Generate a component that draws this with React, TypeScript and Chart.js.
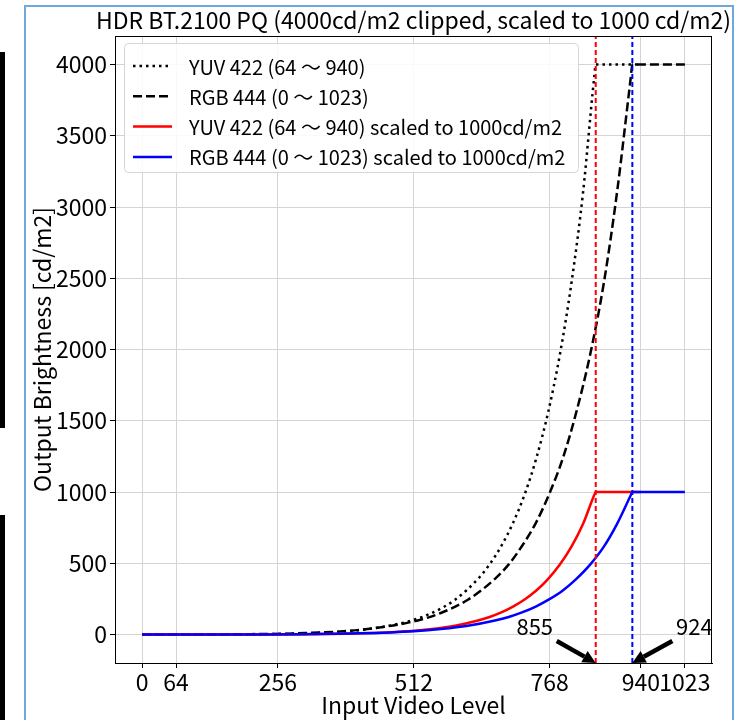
import React, { useEffect, useRef } from "react";
import { Chart, registerables } from "chart.js";

Chart.register(...registerables);

// ---- data ----
const yuvLevels = [0, 64, 152, 239, 327, 414, 502, 546, 590, 633, 655, 677, 699, 721, 743, 765, 787, 809, 831, 852, 855, 940];
const yuvNits = [0, 0, 0.3, 2.4, 10, 32.5, 92, 151, 244, 390, 492, 621, 782, 983, 1237, 1555, 1956, 2461, 3099, 3907, 4000, 4000];
const yuvScaledNits = [0, 0, 0.08, 0.6, 2.5, 8.1, 23, 38, 61, 98, 123, 155, 196, 246, 309, 389, 489, 615, 775, 977, 1000, 1000];

const rgbLevels = [0, 102, 205, 307, 409, 512, 563, 614, 665, 691, 716, 742, 767, 793, 818, 844, 870, 895, 921, 924, 1023];
const rgbNits = [0, 0.3, 2.4, 10, 32.5, 92, 151, 244, 390, 492, 621, 782, 983, 1237, 1555, 1956, 2461, 3099, 3907, 4000, 4000];
const rgbScaledNits = [0, 0.08, 0.6, 2.5, 8.1, 23, 38, 61, 98, 123, 155, 196, 246, 309, 389, 489, 615, 775, 977, 1000, 1000];

const clipLevels = [855, 924];
const clipLabels = ["855", "924"];
const xTicks = [0, 64, 256, 512, 768, 940, 1023];
const yTicks = [0, 500, 1000, 1500, 2000, 2500, 3000, 3500, 4000];
const xMin = -51.15;
const xMax = 1074.15;
const yMin = -200;
const yMax = 4200;

const seriesLabels = [
  "YUV 422 (64 〜 940)",
  "RGB 444 (0 〜 1023)",
  "YUV 422 (64 〜 940) scaled to 1000cd/m2",
  "RGB 444 (0 〜 1023) scaled to 1000cd/m2",
];
const titleText = "HDR BT.2100 PQ (4000cd/m2 clipped, scaled to 1000 cd/m2)";
const xTitle = "Input Video Level";
const yTitle = "Output Brightness [cd/m2]";

const FONT = "'Noto Sans CJK JP', 'Noto Sans', sans-serif";

const toPoints = (xs: number[], ys: number[]) => xs.map((x, i) => ({ x, y: ys[i] }));

const figurePlugin = {
  id: "figureDecor",
  afterDatasetsDraw(chart: any) {
    const { ctx, chartArea } = chart;
    const xs = chart.scales.x;
    const ys = chart.scales.y;
    ctx.save();
    // spines
    ctx.strokeStyle = "#000";
    ctx.lineWidth = 1;
    ctx.strokeRect(chartArea.left + 0.5, chartArea.top + 0.5, chartArea.right - chartArea.left - 1, chartArea.bottom - chartArea.top);

    // legend
    const lx = 124, ly = 43, lw = 454, lh = 129;
    ctx.fillStyle = "rgba(255,255,255,0.85)";
    ctx.strokeStyle = "#d6d6d6";
    ctx.lineWidth = 1;
    ctx.beginPath();
    (ctx as any).roundRect(lx + 0.5, ly + 0.5, lw, lh, 4);
    ctx.fill();
    ctx.stroke();
    const dsets = chart.data.datasets.filter((d: any) => d.label);
    ctx.font = `20px ${FONT}`;
    ctx.textBaseline = "middle";
    ctx.textAlign = "left";
    dsets.forEach((d: any, i: number) => {
      const cy = ly + 23 + i * 30.3;
      ctx.strokeStyle = d.borderColor;
      ctx.lineWidth = d.borderWidth;
      ctx.setLineDash(d.borderDash || []);
      ctx.lineCap = "butt";
      ctx.beginPath();
      ctx.moveTo(lx + 9, cy);
      ctx.lineTo(lx + 48, cy);
      ctx.stroke();
      ctx.setLineDash([]);
      ctx.fillStyle = "#000";
      ctx.fillText(d.label, lx + 65, cy + 1);
    });

    // arrows + labels
    const arrowDx = [-39, 40];
    const textDx = [-61, 62];
    clipLevels.forEach((lv, i) => {
      const hx = xs.getPixelForValue(lv);
      const hy = ys.getPixelForValue(yMin);
      const tx = hx + arrowDx[i];
      const ty = hy - 22;
      const ang = Math.atan2(hy - ty, hx - tx);
      const headLen = 13, headW = 13;
      const bx = hx - headLen * Math.cos(ang);
      const by = hy - headLen * Math.sin(ang);
      ctx.strokeStyle = "#000";
      ctx.lineWidth = 4.5;
      ctx.beginPath();
      ctx.moveTo(tx, ty);
      ctx.lineTo(bx, by);
      ctx.stroke();
      ctx.fillStyle = "#000";
      ctx.beginPath();
      ctx.moveTo(hx, hy);
      ctx.lineTo(bx + (headW / 2) * Math.sin(ang), by - (headW / 2) * Math.cos(ang));
      ctx.lineTo(bx - (headW / 2) * Math.sin(ang), by + (headW / 2) * Math.cos(ang));
      ctx.closePath();
      ctx.fill();
      ctx.font = `22px ${FONT}`;
      ctx.textAlign = "center";
      ctx.textBaseline = "middle";
      ctx.fillText(clipLabels[i], hx + textDx[i], hy - 36);
    });

    // title
    ctx.font = `23px ${FONT}`;
    ctx.textAlign = "center";
    ctx.textBaseline = "middle";
    ctx.fillStyle = "#000";
    ctx.fillText(titleText, (chartArea.left + chartArea.right) / 2, 20);
    ctx.restore();
  },
};

export default function App() {
  const ref = useRef<HTMLCanvasElement | null>(null);
  useEffect(() => {
    if (!ref.current) return;
    Chart.defaults.font.family = FONT;
    Chart.defaults.color = "#000";
    const curve = { cubicInterpolationMode: "monotone" };
    const chart = new Chart(ref.current, {
      type: "line",
      data: {
        datasets: [
          { label: seriesLabels[0], data: toPoints(yuvLevels, yuvNits), borderColor: "#000", borderWidth: 2.5, borderDash: [2.5, 4], order: 6, ...curve },
          { label: seriesLabels[1], data: toPoints(rgbLevels, rgbNits), borderColor: "#000", borderWidth: 2.5, borderDash: [9, 4], order: 5, ...curve },
          { label: seriesLabels[2], data: toPoints(yuvLevels, yuvScaledNits), borderColor: "#ff0000", borderWidth: 2.5, order: 4, ...curve },
          { label: seriesLabels[3], data: toPoints(rgbLevels, rgbScaledNits), borderColor: "#0000ff", borderWidth: 2.5, order: 3, ...curve },
          { label: "", data: [{ x: clipLevels[0], y: yMin }, { x: clipLevels[0], y: yMax }], borderColor: "#ff0000", borderWidth: 2, borderDash: [5, 3], order: 2 },
          { label: "", data: [{ x: clipLevels[1], y: yMin }, { x: clipLevels[1], y: yMax }], borderColor: "#0000ff", borderWidth: 2, borderDash: [5, 3], order: 1 },
        ] as any,
      },
      options: {
        animation: false,
        responsive: false,
        layout: { padding: { top: 36, right: 28, left: 0, bottom: 0 } },
        elements: { point: { radius: 0 }, line: { tension: 0, fill: false } },
        plugins: { legend: { display: false }, tooltip: { enabled: false }, title: { display: false } },
        scales: {
          x: {
            type: "linear",
            min: xMin,
            max: xMax,
            afterBuildTicks: (s: any) => { s.ticks = xTicks.map((v) => ({ value: v })); },
            afterFit: (s: any) => { s.height = 57; },
            ticks: { font: { size: 23 }, padding: 0, maxRotation: 0, autoSkip: false, callback: (v: any) => String(v) },
            grid: { color: "#d4d4d4", lineWidth: 1, tickLength: 5, tickColor: "#000" },
            border: { display: true, color: "#000" },
            title: { display: true, text: xTitle, font: { size: 23 }, padding: { top: 0, bottom: 1 } },
          },
          y: {
            type: "linear",
            min: yMin,
            max: yMax,
            afterBuildTicks: (s: any) => { s.ticks = yTicks.map((v) => ({ value: v })); },
            afterFit: (s: any) => { s.width = 115; },
            ticks: { font: { size: 23 }, padding: 3, autoSkip: false, callback: (v: any) => String(v) },
            grid: { color: "#d4d4d4", lineWidth: 1, tickLength: 5, tickColor: "#000" },
            border: { display: true, color: "#000" },
            title: { display: true, text: yTitle, font: { size: 23 }, padding: { top: 28, bottom: 0 } },
          },
        },
      } as any,
      plugins: [figurePlugin],
    });
    return () => chart.destroy();
  }, []);

  return (
    <div style={{ position: "fixed", left: 0, top: 0, width: 740, height: 720, background: "#fff", overflow: "hidden" }}>
      <div style={{ position: "absolute", left: 0, top: 52, width: 5, height: 376, background: "#000" }} />
      <div style={{ position: "absolute", left: 0, top: 515, width: 5, height: 205, background: "#000" }} />
      <canvas ref={ref} width={740} height={720} style={{ position: "absolute", left: 0, top: 0, width: 740, height: 720 }} />
      <div style={{ position: "absolute", left: 24, top: 5, width: 710, height: 730, border: "2px solid #6fa8dc", boxSizing: "border-box", pointerEvents: "none" }} />
    </div>
  );
}
